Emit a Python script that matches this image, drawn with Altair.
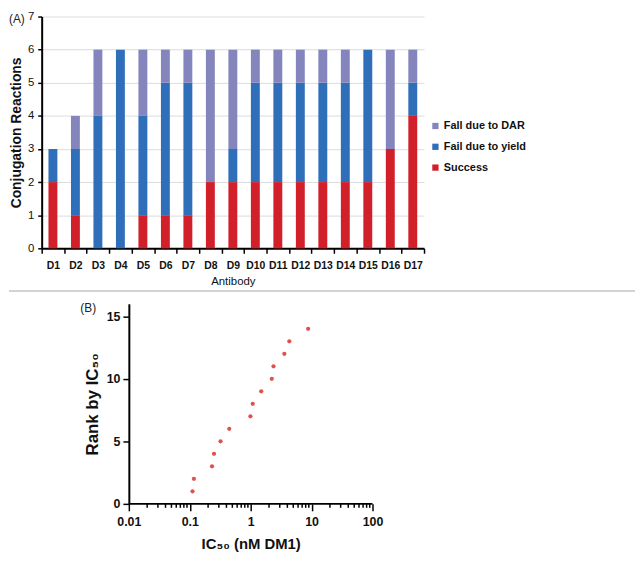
import altair as alt
import pandas as pd

antibodies = [f"D{i}" for i in range(1, 18)]
success = [2, 1, 0, 0, 1, 1, 1, 2, 2, 2, 2, 2, 2, 2, 2, 3, 4]
fail_yield = [1, 2, 4, 6, 3, 4, 4, 0, 1, 3, 3, 3, 3, 3, 4, 0, 1]
fail_dar = [0, 1, 2, 0, 2, 1, 1, 4, 3, 1, 1, 1, 1, 1, 0, 3, 1]

categories = ["Fall due to DAR", "Fail due to yield", "Success"]
cat_colors = ["#8585BD", "#2F6EB9", "#D1202A"]

ic50 = [0.111, 0.117, 0.232, 0.25, 0.32, 0.445, 0.99, 1.08, 1.49, 2.22, 2.37, 3.57, 4.31, 8.77]
rank = list(range(1, 15))

x_major = [0.01, 0.1, 1, 10, 100]
x_minor = [0.02, 0.03, 0.04, 0.05, 0.06, 0.07, 0.08, 0.09,
           0.2, 0.3, 0.4, 0.5, 0.6, 0.7, 0.8, 0.9,
           2, 3, 4, 5, 6, 7, 8, 9,
           20, 30, 40, 50, 60, 70, 80, 90]

rows = []
for i, ab in enumerate(antibodies):
    rows.append({"Antibody": ab, "Category": "Success", "Count": success[i], "ord": 0})
    rows.append({"Antibody": ab, "Category": "Fail due to yield", "Count": fail_yield[i], "ord": 1})
    rows.append({"Antibody": ab, "Category": "Fall due to DAR", "Count": fail_dar[i], "ord": 2})
df_a = pd.DataFrame(rows)
df_b = pd.DataFrame({"IC50": ic50, "Rank": rank})
df_minor = pd.DataFrame({"IC50": x_minor})
df_dom = pd.DataFrame({"IC50": [x_major[0]], "IC50_end": [x_major[-1]]})

FONT = "Liberation Sans"
W = 386
HA = 234
HB = 202

bars = alt.Chart(df_a).mark_bar(size=9).encode(
    x=alt.X("Antibody:N", sort=antibodies, title="Antibody",
            scale=alt.Scale(paddingInner=0, paddingOuter=0),
            axis=alt.Axis(labelAngle=0, labelFont=FONT, labelFontSize=10.5, labelFontWeight="bold",
                          labelColor="#111", labelPadding=7,
                          titleFont=FONT, titleFontSize=11.5, titleFontWeight="normal", titleColor="#111",
                          titlePadding=5,
                          domainColor="black", domainWidth=2, tickColor="black", tickWidth=1.5,
                          tickSize=5, tickBand="extent", grid=False)),
    y=alt.Y("Count:Q", stack="zero", title="Conjugation Reactions",
            scale=alt.Scale(domain=[0, 7]),
            axis=alt.Axis(values=[0, 1, 2, 3, 4, 5, 6, 7], labelFont=FONT, labelFontSize=11.5,
                          labelColor="#111", labelPadding=4,
                          titleFont=FONT, titleFontSize=14, titleFontWeight="bold", titleColor="#111",
                          titlePadding=4,
                          domainColor="black", domainWidth=2, tickColor="black", tickSize=4,
                          tickWidth=1.5, grid=True, gridColor="#dcdcdc", gridWidth=1)),
    color=alt.Color("Category:N", scale=alt.Scale(domain=categories, range=cat_colors),
                    legend=alt.Legend(title=None, orient="none", legendX=392, legendY=105,
                                      symbolType="square", symbolSize=40, symbolStrokeWidth=0,
                                      labelFont=FONT, labelFontSize=11, labelFontWeight="bold",
                                      labelColor="#111", rowPadding=9, labelOffset=3)),
    order=alt.Order("ord:Q"),
)

label_a = alt.Chart(pd.DataFrame({"t": ["(A)"]})).mark_text(
    align="left", baseline="middle", font=FONT, fontSize=12, color="#222"
).encode(text="t:N", x=alt.value(-33), y=alt.value(3))

sep = alt.Chart(pd.DataFrame({"t": [0]})).mark_rule(color="#c4c4c4", strokeWidth=1.5).encode(
    x=alt.value(-33), x2=alt.value(599), y=alt.value(HA + 43)
)

panel_a = alt.layer(bars, label_a, sep).properties(width=W, height=HA)

xscale = alt.Scale(type="log", domain=[0.01, 100], range=[88, 334])

points = alt.Chart(df_b).mark_circle(size=18, color="#E0504E", opacity=1).encode(
    x=alt.X("IC50:Q", title="IC₅₀ (nM DM1)", scale=xscale,
            axis=alt.Axis(values=x_major, grid=False, format="~g", domain=False,
                          labelFont=FONT, labelFontSize=12.5, labelFontWeight="bold", labelColor="#111",
                          labelPadding=5, labelFlush=False, labelOverlap=False,
                          titleFont=FONT, titleFontSize=15, titleFontWeight="bold", titleColor="#111",
                          titlePadding=9,
                          tickColor="black", tickWidth=1.5, tickSize=7)),
    y=alt.Y("Rank:Q", title="Rank by IC₅₀",
            scale=alt.Scale(domain=[0, 16], nice=False),
            axis=alt.Axis(values=[0, 5, 10, 15], grid=False, offset=-88,
                          labelFont=FONT, labelFontSize=12.5, labelFontWeight="bold", labelColor="#111",
                          labelPadding=3,
                          titleFont=FONT, titleFontSize=17, titleFontWeight="bold", titleColor="#111",
                          titlePadding=5,
                          domainColor="black", domainWidth=2, tickColor="black", tickWidth=1.5,
                          tickSize=6)),
)

x_domain_line = alt.Chart(df_dom).mark_rule(color="black", strokeWidth=2).encode(
    x=alt.X("IC50:Q", scale=xscale), x2="IC50_end:Q", y=alt.value(HB)
)

minor_ticks = alt.Chart(df_minor).mark_rule(color="black", strokeWidth=1.5).encode(
    x=alt.X("IC50:Q", scale=xscale), y=alt.value(HB), y2=alt.value(HB + 4)
)

label_b = alt.Chart(pd.DataFrame({"t": ["(B)"]})).mark_text(
    align="left", baseline="middle", font=FONT, fontSize=12, color="#222"
).encode(text="t:N", x=alt.value(39), y=alt.value(4))

panel_b = alt.layer(points, x_domain_line, minor_ticks, label_b).properties(width=W, height=HB)

chart = alt.vconcat(panel_a, panel_b, spacing=56, bounds="flush").properties(
    padding=0
).configure(background="white").configure_view(stroke=None, strokeWidth=0)

chart.save("out.html", embed_options={"renderer": "svg", "actions": False})
